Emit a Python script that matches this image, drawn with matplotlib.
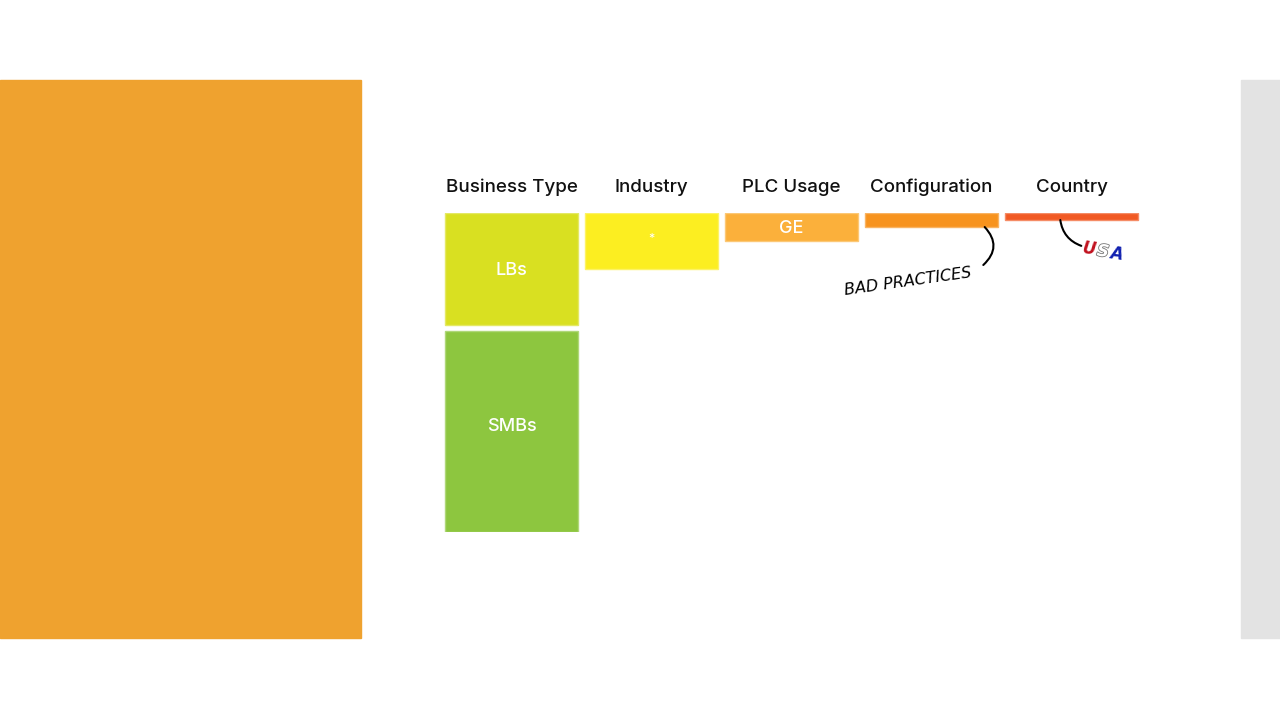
import matplotlib.pyplot as plt
import matplotlib.patheffects as pe
from matplotlib.patches import Rectangle
from matplotlib.colors import to_rgb

# funnel columns (share of all respondents, %)
columns = ["Business Type", "Industry", "PLC Usage", "Configuration", "Country"]
business_labels = ["LBs", "SMBs"]
business_values = [35, 63]
step_values = [17.6, 8.8, 4.4, 2.2]      # Industry, PLC Usage, Configuration, Country
step_labels = ["*", "GE", "", ""]

business_colors = ["#D9E021", "#8DC63F"]
step_colors = ["#FCEE21", "#FBB03B", "#F7931E", "#F15A24"]

plt.rcParams['font.family'] = ['Inter', 'DejaVu Sans']

def lighter(c, k=0.3):
    r, g, b = to_rgb(c)
    return (r + (1 - r) * k, g + (1 - g) * k, b + (1 - b) * k)

fig = plt.figure(figsize=(12.8, 7.2), dpi=100)
fig.patch.set_facecolor("white")

# slide decoration
fig.add_artist(Rectangle((0, (720 - 638) / 720), 361 / 1280, 558 / 720,
                         transform=fig.transFigure, color="#EFA22F", zorder=0))
fig.add_artist(Rectangle((1241 / 1280, (720 - 638) / 720), 39 / 1280, 558 / 720,
                         transform=fig.transFigure, color="#E3E3E3", zorder=0))

ax = fig.add_axes([441.5 / 1280, (720 - 532) / 720, 700 / 1280, 319 / 720])
ax.set_xlim(-0.5, 4.5)
ax.set_ylim(100, 0)
ax.axis("off")

w = 0.95
gap = 1.9
dy = 0.6  # small nudge so text sits visually centred

# business type stack
bottom = 0
for lab, val, col in zip(business_labels, business_values, business_colors):
    ax.bar(0, val, bottom=bottom, width=w, color=col, edgecolor=lighter(col), linewidth=1.0)
    ax.text(0, bottom + val / 2 + dy - (2 if lab == "SMBs" else 0), lab, color="white",
            fontsize=13, fontweight="medium", ha="center", va="center")
    bottom += val + gap

# remaining funnel steps
for i, (val, lab, col) in enumerate(zip(step_values, step_labels, step_colors), start=1):
    ax.bar(i, val, bottom=0, width=w, color=col, edgecolor=lighter(col), linewidth=1.0)
    if lab == "*":
        ax.text(i, val / 2 - 0.6, lab, color="white", fontsize=9, ha="center", va="center")
    elif lab:
        ax.text(i, val / 2 + dy, lab, color="white", fontsize=13, fontweight="medium",
                ha="center", va="center")

for i, name in enumerate(columns):
    ax.text(i, -8.6 + dy, name, fontsize=13.5, fontweight="medium", ha="center", va="center",
            color="#111111", clip_on=False)

# annotations
ax.annotate("", xy=(3.38, step_values[2]), xytext=(3.37, 16.3),
            arrowprops=dict(arrowstyle="-", color="black", lw=1.5,
                            connectionstyle="arc3,rad=0.5", shrinkA=0, shrinkB=0))
ax.text(2.83, 21.6, "BAD PRACTICES", fontsize=11.5, fontstyle="italic", rotation=8,
        ha="center", va="center", color="black", family=["DejaVu Sans"])

ax.annotate("", xy=(3.92, step_values[3]), xytext=(4.07, 10.3),
            arrowprops=dict(arrowstyle="-", color="black", lw=1.5,
                            connectionstyle="arc3,rad=-0.3", shrinkA=0, shrinkB=0))
for x, y, letter, col in [(4.13, 11.2, "U", "#C1121F"), (4.225, 12.0, "S", "white"), (4.32, 12.8, "A", "#1020B0")]:
    t = ax.text(x, y, letter, fontsize=12, fontweight="bold", fontstyle="italic",
                ha="center", va="center", color=col, rotation=-8, family=["DejaVu Sans"])
    if letter == "S":
        t.set_path_effects([pe.Stroke(linewidth=1.2, foreground="#777777"), pe.Normal()])

fig.savefig("out.png", dpi=100)
